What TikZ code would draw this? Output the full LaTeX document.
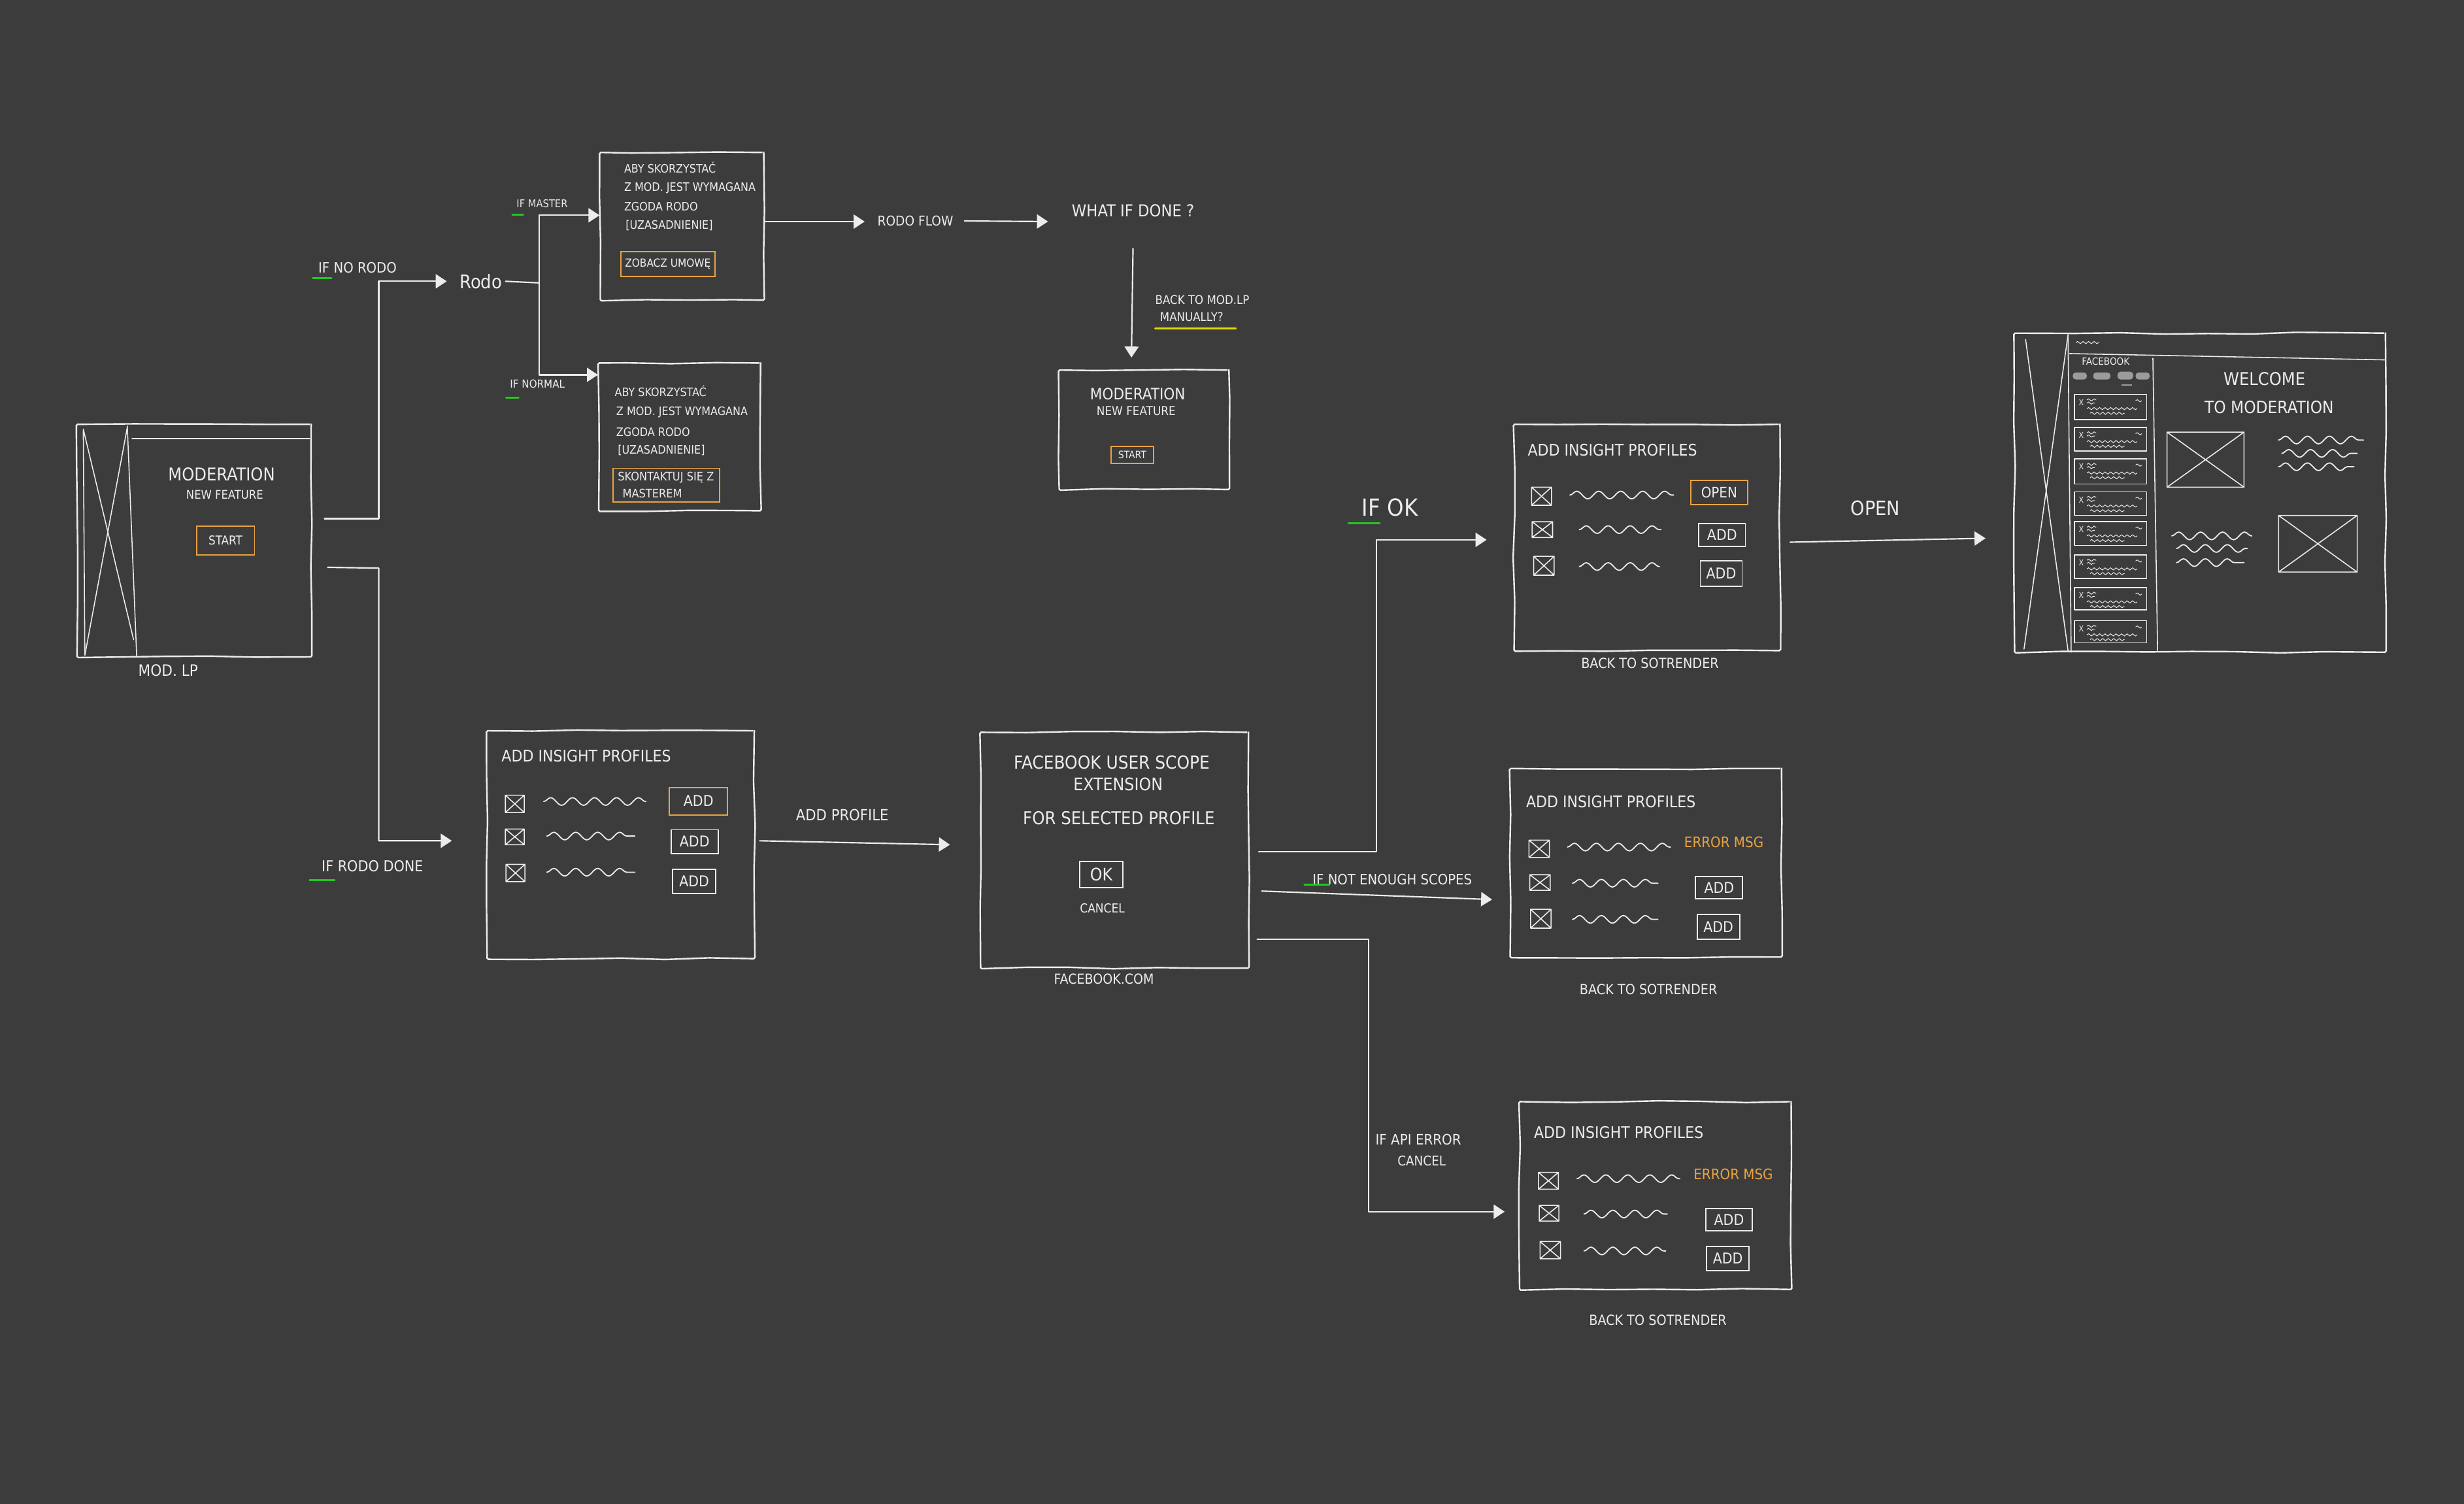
\documentclass[tikz,border=0pt]{standalone}
\usepackage{fontspec}
\setmainfont{DejaVu Sans Condensed}
\usetikzlibrary{arrows.meta,decorations.pathmorphing,fit}
\definecolor{bg}{RGB}{60,60,60}
\definecolor{ink}{RGB}{236,236,236}
\definecolor{orng}{RGB}{233,163,66}
\definecolor{grn}{RGB}{34,200,34}
\definecolor{ylw}{RGB}{222,222,0}
\definecolor{pillc}{RGB}{155,155,155}
\newcommand\fz[1]{\fontsize{#1}{#1}\selectfont}
\newcommand\chkbox[4]{\draw[detail] (#1,#2) rectangle (#3,#4) (#1,#2) -- (#3,#4) (#1,#4) -- (#3,#2);}
% welcome sidebar card: name, top, bottom
\newcommand\wcard[3]{%
  \draw[detail] (1320,#2) rectangle (1366,#3);
  \node[font=\fz{5.2}] (#1) at (1324.5,#2+5) {X};
  \draw[swave] (1328,#2+3.5) -- (1334,#2+3.5);
  \draw[swave] (1328,#2+5.5) -- (1333,#2+5.5);
  \draw[swave] (1359,#2+4) -- (1363,#2+4);
  \draw[swave] (1328,#2+9) -- (1360,#2+9);
  \draw[swave] (1330,#2+12) -- (1352,#2+12);
}
\tikzset{
  every node/.style={text=ink, inner sep=0pt},
  frame/.style={draw=ink, line width=1pt, inner sep=0pt, decorate,
    decoration={random steps, segment length=28pt, amplitude=0.6pt}, rounded corners=0.8pt},
  obtn/.style={draw=orng, line width=0.8pt, inner sep=0pt},
  wbtn/.style={draw=ink, line width=0.8pt, inner sep=0pt},
  bsz/.style 2 args={minimum width=#1pt, minimum height=#2pt},
  conn/.style={draw=ink, line width=0.9pt, line cap=round, line join=round},
  arr/.style={conn, -{Triangle[length=7pt,width=9pt]}},
  detail/.style={draw=ink, line width=0.65pt, line cap=round, line join=round},
  wave/.style={draw=ink, line width=0.75pt, line cap=round, decorate, decoration={snake, amplitude=2.4pt, segment length=14pt}},
  swave/.style={draw=ink, line width=0.4pt, decorate, decoration={snake, amplitude=0.7pt, segment length=3.5pt}},
  gline/.style={draw=grn, line width=1.1pt, line cap=round},
  yline/.style={draw=ylw, line width=0.9pt, line cap=round},
}
\begin{document}
\begin{tikzpicture}[x=1pt,y=-1pt]
\pgfmathsetseed{11}
\useasboundingbox (0,0) rectangle (1568,957);
\fill[bg] (0,0) rectangle (1568,957);

% ---------------- Mod LP ----------------
\node[frame, fit={(49,270)(198,418)}] (modlp) {};
\draw[detail] (81,271) -- (87,418);
\draw[detail] (53,274) -- (54,416);
\draw[detail] (84,279) -- (197,279);
\draw[detail] (53,273) -- (85,407);
\draw[detail] (81,272) -- (54,417);
\node[font=\fz{11.2}] (modlpT) at (141,302) {MODERATION};
\node[font=\fz{7.6}] (modlpS) at (143,315) {NEW FEATURE};
\node[obtn, bsz={37}{18}, font=\fz{7.8}] (modlpStart) at (143.5,344) {START};
\node[font=\fz{10}] (modlpL) at (107,426.5) {MOD. LP};

% ---------------- Rodo ----------------
\node[font=\fz{12}] (rodo) at (306,179) {Rodo};
\draw[arr] ([shift={(8,-14)}]modlp.east) -- (241,330) |- ([xshift=-8pt]rodo.west);
\node[font=\fz{9.1}] (lNoRodo) at (227.5,170.5) {IF NO RODO};
\draw[gline] (199,177) -- (211,177);

% box A (master)
\node[frame, fit={(382,97)(486,191)}] (boxA) {};
\node[anchor=west, font=\fz{7.4}] (a1) at (397,106.5) {ABY SKORZYSTAĆ};
\node[anchor=west, font=\fz{7.4}] (a2) at (397,119.5) {Z MOD. JEST WYMAGANA};
\node[anchor=west, font=\fz{7.4}] (a3) at (397,131.5) {ZGODA RODO};
\node[anchor=west, font=\fz{7.4}] (a4) at (398,143.5) {[UZASADNIENIE]};
\node[obtn, bsz={60}{16}, font=\fz{7.1}] (aBtn) at (425,168) {ZOBACZ UMOWĘ};

% box B (normal)
\node[frame, fit={(381,231)(484,325)}] (boxB) {};
\node[anchor=west, font=\fz{7.4}] (b1) at (391,249) {ABY SKORZYSTAĆ};
\node[anchor=west, font=\fz{7.4}] (b2) at (392,262.4) {Z MOD. JEST WYMAGANA};
\node[anchor=west, font=\fz{7.4}] (b3) at (392,275) {ZGODA RODO};
\node[anchor=west, font=\fz{7.4}] (b4) at (393,286.5) {[UZASADNIENIE]};
\node[obtn, bsz={68}{21.5}] (bBtn) at (424,308.75) {};
\node[anchor=west, font=\fz{7.5}] (bBtn1) at (393,303.8) {SKONTAKTUJ SIĘ Z};
\node[anchor=west, font=\fz{7.5}] (bBtn2) at (396,313.8) {MASTEREM};

% rodo branches
\coordinate (rj) at (343,180);
\draw[conn] ([xshift=2pt]rodo.east) -- (rj);
\draw[arr] (rj) |- (boxA.west |- 0,137);
\draw[arr] (rj) |- (boxB.west |- 0,238.5);
\node[font=\fz{6.8}] (lMaster) at (345,129.6) {IF MASTER};
\draw[gline] (326,136.5) -- (333,136.5);
\node[font=\fz{7}] (lNormal) at (342,244.5) {IF NORMAL};
\draw[gline] (322,253) -- (330,253);

% rodo flow / what if done
\node[font=\fz{8.6}] (rodoflow) at (582.5,140.6) {RODO FLOW};
\node[font=\fz{10.5}] (whatif) at (721,134) {WHAT IF DONE ?};
\draw[arr] (boxA.east |- 0,141) -- ([xshift=-8pt]rodoflow.west |- 0,141);
\draw[arr] ([xshift=7pt]rodoflow.east) -- ([xshift=-15pt]whatif.west |- 0,141);

% box C
\node[frame, fit={(674,235.5)(782,311.5)}] (boxC) {};
\node[font=\fz{10}] (cT) at (724,250.5) {MODERATION};
\node[font=\fz{7.8}] (cS) at (723,261.6) {NEW FEATURE};
\node[obtn, bsz={27}{11}, font=\fz{6.5}] (cStart) at (720.5,289.5) {START};
\coordinate (cIn) at (720,227.5);
\draw[arr] ([yshift=-20pt]whatif.south) -- (cIn);
\node[anchor=west, font=\fz{7.7}] (lBack1) at (735,191) {BACK TO MOD.LP};
\node[anchor=west, font=\fz{7.7}] (lBack2) at (738,201.8) {MANUALLY?};
\draw[yline] (735,209) -- (786.5,209);

% ---------------- lower path ----------------
\node[frame, fit={(310,465)(480,610)}] (boxD) {};
\draw[arr] ([shift={(10,17)}]modlp.east) -- (241,361.5) |- ([xshift=-22pt]boxD.west |- 0,535);
\node[font=\fz{9.6}] (lRodoDone) at (237,551) {IF RODO DONE};
\draw[gline] (197,560) -- (213,560);

\node[anchor=west, font=\fz{10.2}] (dT) at (319,481) {ADD INSIGHT PROFILES};
\chkbox{321.6}{506}{333.6}{517}
\chkbox{321.6}{527.5}{333.6}{537.5}
\chkbox{322}{550}{334}{561}
\draw[wave] (346,510) -- (411,510);
\draw[wave] (348,532) -- (404,532);
\draw[wave] (348,555) -- (404,555);
\node[obtn, bsz={37}{17.5}, font=\fz{9.5}] (dAdd1) at (444.5,509.75) {ADD};
\node[wbtn, bsz={30}{15}, font=\fz{9.5}] (dAdd2) at (442,535.5) {ADD};
\node[wbtn, bsz={27.5}{15.6}, font=\fz{9.5}] (dAdd3) at (441.75,560.8) {ADD};

% box E facebook
\node[frame, fit={(624,466)(794.5,616)}] (boxE) {};
\draw[arr] ([xshift=3pt]boxD.east |- 0,535) -- ([xshift=-19pt]boxE.west |- 0,537.5);
\node[font=\fz{9.8}] (lAddProfile) at (536,518.5) {ADD PROFILE};
\node[font=\fz{11.5}] (e1) at (707.5,485) {FACEBOOK USER SCOPE};
\node[font=\fz{11}] (e2) at (711.5,499) {EXTENSION};
\node[font=\fz{11.3}] (e3) at (712,520.5) {FOR SELECTED PROFILE};
\node[wbtn, bsz={27.6}{17}, font=\fz{11}] (eOk) at (700.8,556.5) {OK};
\node[font=\fz{7.9}] (eCancel) at (701.5,578) {CANCEL};
\node[font=\fz{8.8}] (eCom) at (702.5,623) {FACEBOOK.COM};

% ---------------- right column ----------------
\node[frame, fit={(963.5,270)(1132.7,414)}] (boxF) {};
\node[frame, fit={(961,489)(1133.7,609)}] (boxG) {};
\node[frame, fit={(967,701)(1139.8,820.5)}] (boxH) {};

% connectors from E
\draw[arr] ([xshift=6pt]boxE.east |- 0,542) -| (876,343.5) -- ([xshift=-17pt]boxF.west |- 0,343.5);
\node[font=\fz{15}] (lOk) at (884.5,323) {IF OK};
\draw[gline] (858,333) -- (878,333);
\draw[arr] ([xshift=8pt]boxE.east |- 0,567) -- ([xshift=-11pt]boxG.west |- 0,572.4);
\node[font=\fz{9.1}] (lScopes) at (886,559.6) {IF NOT ENOUGH SCOPES};
\draw[gline] (830,563) -- (846,563);
\draw[arr] ([xshift=5pt]boxE.east |- 0,597.6) -| (871,771) -- ([xshift=-9pt]boxH.west |- 0,771);
\node[font=\fz{9.2}] (lApi1) at (902.6,725) {IF API ERROR};
\node[font=\fz{8.5}] (lApi2) at (904.7,738.8) {CANCEL};

% box F
\node[anchor=west, font=\fz{10.2}] (fT) at (972,286.5) {ADD INSIGHT PROFILES};
\chkbox{974.6}{310}{987.3}{321.5}
\chkbox{975}{332}{988}{342}
\chkbox{976}{354}{989}{366}
\draw[wave] (999,315) -- (1065,315);
\draw[wave] (1005,337) -- (1057,337);
\draw[wave] (1005,360.5) -- (1056,360.5);
\node[obtn, bsz={36}{15.3}, font=\fz{9.2}] (fOpen) at (1094,313.35) {OPEN};
\node[wbtn, bsz={29.7}{14.8}, font=\fz{9.5}] (fAdd2) at (1095.85,340.4) {ADD};
\node[wbtn, bsz={26.6}{16}, font=\fz{9.5}] (fAdd3) at (1095.3,365) {ADD};
\node[font=\fz{8.9}] (fBack) at (1050,422) {BACK TO SOTRENDER};

% box G
\node[anchor=west, font=\fz{10.2}] (gT) at (971,510) {ADD INSIGHT PROFILES};
\chkbox{973}{534.6}{986}{545.6}
\chkbox{973.5}{556.6}{986.5}{566.5}
\chkbox{974}{578.6}{987}{590.6}
\draw[wave] (997.5,539) -- (1063,539);
\draw[wave] (1000.7,562) -- (1055,562);
\draw[wave] (1000.7,585) -- (1055,585);
\node[font=\fz{9.2}, text=orng] (gErr) at (1097,536) {ERROR MSG};
\node[wbtn, bsz={30}{14.2}, font=\fz{9.5}] (gAdd2) at (1094,564.9) {ADD};
\node[wbtn, bsz={27}{15.7}, font=\fz{9.5}] (gAdd3) at (1093.5,589.85) {ADD};
\node[font=\fz{8.9}] (gBack) at (1049,629.4) {BACK TO SOTRENDER};

% box H
\node[anchor=west, font=\fz{10.2}] (hT) at (976,720.8) {ADD INSIGHT PROFILES};
\chkbox{979}{746}{991.7}{756.7}
\chkbox{979.5}{767}{992}{777}
\chkbox{980}{790}{993}{801}
\draw[wave] (1003.5,750) -- (1069,750);
\draw[wave] (1008,772.5) -- (1061,772.5);
\draw[wave] (1008,796) -- (1060,796);
\node[font=\fz{9.2}, text=orng] (hErr) at (1103,747) {ERROR MSG};
\node[wbtn, bsz={29.4}{14}, font=\fz{9.5}] (hAdd2) at (1100.3,776) {ADD};
\node[wbtn, bsz={27}{15.6}, font=\fz{9.5}] (hAdd3) at (1099.5,800.8) {ADD};
\node[font=\fz{8.9}] (hBack) at (1055,840) {BACK TO SOTRENDER};

% ---------------- Welcome ----------------
\node[frame, fit={(1282,212)(1518,415)}] (welcome) {};
\draw[arr] ([xshift=6pt]boxF.east |- 0,345) -- ([xshift=-18pt]welcome.west |- 0,342.5);
\node[font=\fz{12.6}] (lOpen) at (1193.5,323.5) {OPEN};

\draw[detail] (1289,216) -- (1316,414);
\draw[detail] (1316,213) -- (1288,413);
\draw[detail] (1316,213) -- (1318,415);
\draw[detail] (1370,228) -- (1373,414);
\draw[detail] (1317,225) -- (1518,229);
\draw[swave] (1321,218) -- (1336,218);
\node[font=\fz{6.3}] (wFb) at (1340,230) {FACEBOOK};
\fill[pillc, rounded corners=2pt] (1319,237) rectangle (1328,241.5);
\fill[pillc, rounded corners=2pt] (1332,237) rectangle (1343,241.5);
\fill[pillc, rounded corners=2pt] (1347.5,236.5) rectangle (1357.5,241.5);
\fill[pillc, rounded corners=2pt] (1359,237) rectangle (1368,241.5);
\draw[pillc, line width=0.5pt] (1350,245) -- (1356.5,245);
\wcard{wc1}{251}{267}
\wcard{wc2}{272}{287}
\wcard{wc3}{292}{308}
\wcard{wc4}{313}{328}
\wcard{wc5}{332}{347}
\wcard{wc6}{353}{368}
\wcard{wc7}{374}{388}
\wcard{wc8}{395}{409}
\node[font=\fz{11.2}] (wT1) at (1441,241) {WELCOME};
\node[font=\fz{10.8}] (wT2) at (1444,259) {TO MODERATION};
\draw[detail] (1379,275) rectangle (1428,310) (1379,275) -- (1428,310) (1379,310) -- (1428,275);
\draw[detail] (1450,328) rectangle (1500,364) (1450,328) -- (1500,364) (1450,364) -- (1500,328);
\draw[wave] (1450,280) -- (1504,280);
\draw[wave] (1452,288.5) -- (1500,288.5);
\draw[wave] (1450,297) -- (1498,297);
\draw[wave] (1382,341) -- (1433,341);
\draw[wave] (1385,349) -- (1430,349);
\draw[wave] (1385,358) -- (1428,358);
\end{tikzpicture}
\end{document}
